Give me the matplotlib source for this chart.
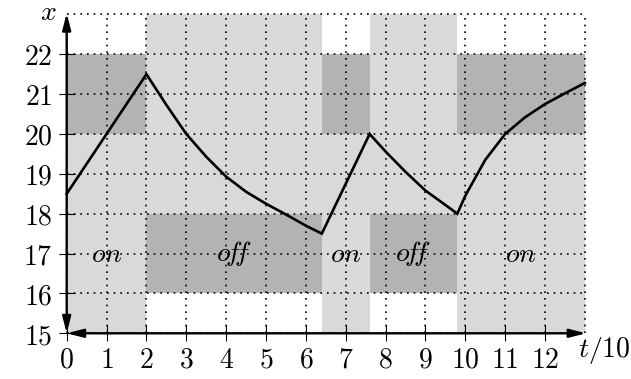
import matplotlib
matplotlib.use("Agg")
import matplotlib.pyplot as plt
import numpy as np

plt.rcParams['mathtext.fontset'] = 'cm'
plt.rcParams['lines.scale_dashes'] = False

# ---- data ----
switch_times = [0, 2, 6.4, 7.6, 9.8, 13]
states = ['on', 'off', 'on', 'off', 'on']
state_labels = {'on': '$on$', 'off': r'$o\!f\!f$'}
light_band = {'on': (15, 22), 'off': (16, 23)}
dark_band = {'on': (20, 22), 'off': (16, 18)}
label_y = 17

t_vals = [0, 2, 2.5, 3, 3.5, 4, 4.5, 5, 5.5, 6, 6.4,
          7.6, 8, 8.5, 9, 9.5, 9.8,
          10, 10.5, 11, 11.5, 12, 12.5, 13]
x_vals = [18.5, 21.5, 20.73, 20.0, 19.43, 18.93, 18.55, 18.25, 17.98, 17.7, 17.5,
          20.0, 19.56, 19.05, 18.58, 18.22, 18.0,
          18.45, 19.35, 20.0, 20.42, 20.75, 21.02, 21.28]

xticks = list(range(0, 13))
xticklabels = ['$%d$' % v for v in xticks]
yticks = list(range(15, 23))
yticklabels = ['$%d$' % v for v in yticks]
grid_x = list(range(0, 14))
grid_y = list(range(15, 24))
xmin, xmax, ymin, ymax = 0, 13, 15, 23

LIGHT = '#d9d9d9'
DARK = '#b3b3b3'
FS = 20

fig = plt.figure(figsize=(6.31, 3.79), dpi=100)
ax = fig.add_axes([0.1057, 0.1206, 0.8212, 0.8414])
ax.set_xlim(xmin, xmax)
ax.set_ylim(ymin, ymax)

for i, s in enumerate(states):
    a, b = switch_times[i], switch_times[i + 1]
    lo, hi = light_band[s]
    ax.fill_between([a, b], lo, hi, color=LIGHT, lw=0, zorder=1)
    lo, hi = dark_band[s]
    ax.fill_between([a, b], lo, hi, color=DARK, lw=0, zorder=1.1)
    ax.text((a + b) / 2, label_y, state_labels[s], fontsize=FS,
            ha='center', va='center', zorder=3)

# dotted grid
gkw = dict(color='black', lw=1.2, linestyle=(0, (1.2, 3.6)), zorder=2,
           clip_on=False)
ax.vlines(grid_x, ymin, ymax, **gkw)
ax.hlines(grid_y, xmin, xmax, **gkw)

# curve
ax.plot(t_vals, x_vals, color='black', lw=1.9, zorder=4,
        solid_joinstyle='miter', clip_on=False)

# axes arrows
for spine in ax.spines.values():
    spine.set_visible(False)
akw = dict(arrowstyle='<|-|>,head_length=0.7,head_width=0.18', lw=1.7,
           color='black', shrinkA=0, shrinkB=0, mutation_scale=14)
ax.annotate('', xy=(xmax + 0.03, ymin), xytext=(xmin, ymin),
            arrowprops=akw, annotation_clip=False, zorder=5)
ax.annotate('', xy=(xmin, ymax + 0.03), xytext=(xmin, ymin),
            arrowprops=akw, annotation_clip=False, zorder=5)

ax.set_xticks(xticks)
ax.set_xticklabels(xticklabels, fontsize=FS)
ax.set_yticks(yticks)
ax.set_yticklabels(yticklabels, fontsize=FS)
ax.tick_params(direction='inout', length=12, width=0.8, color='black')
ax.tick_params(axis='x', pad=3)
ax.tick_params(axis='y', pad=4)

ax.text(-0.47, 22.87, '$x$', fontsize=FS, ha='center', va='baseline')
ax.text(13.48, 14.58, '$t/10$', fontsize=FS, ha='center', va='center')

fig.savefig('out.png', dpi=100)
